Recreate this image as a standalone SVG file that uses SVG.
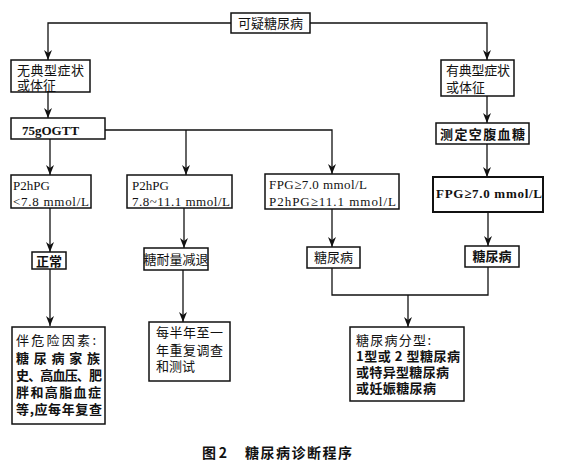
<svg xmlns="http://www.w3.org/2000/svg" width="561" height="472" viewBox="0 0 561 472">
<defs>
<marker id="arr" markerUnits="userSpaceOnUse" markerWidth="11" markerHeight="9" refX="10" refY="4" orient="auto">
<path d="M0,0 L10,4 L0,8 L3,4 z" fill="#111"/>
</marker>
<style>
.b{fill:#fff;stroke:#111;stroke-width:1.5}
.c{fill:none;stroke:#111;stroke-width:1.3}
.cn{font-family:"Noto Sans CJK SC","Liberation Sans",sans-serif;font-size:13px;fill:#111}
.lt{font-family:"Liberation Serif","Noto Sans CJK SC",serif;font-size:13px;fill:#111}
.bd{font-weight:bold}
</style>
</defs>
<rect width="561" height="472" fill="#fff"/>
<g id="connectors">
<path class="c" d="M231,23 H48 V60" marker-end="url(#arr)"/>
<path class="c" d="M310,23 H487 V60" marker-end="url(#arr)"/>
<path class="c" d="M48,92 V118" marker-end="url(#arr)"/>
<path class="c" d="M487,96 V123" marker-end="url(#arr)"/>
<path class="c" d="M105,130 H332 V174" marker-end="url(#arr)"/>
<path class="c" d="M186,130 V175" marker-end="url(#arr)"/>
<path class="c" d="M50,139 V175" marker-end="url(#arr)"/>
<path class="c" d="M487,144 V177" marker-end="url(#arr)"/>
<path class="c" d="M50,208 V252" marker-end="url(#arr)"/>
<path class="c" d="M184,208 V248" marker-end="url(#arr)"/>
<path class="c" d="M332,209 V247" marker-end="url(#arr)"/>
<path class="c" d="M488,212 V246" marker-end="url(#arr)"/>
<path class="c" d="M50,269 V326" marker-end="url(#arr)"/>
<path class="c" d="M183,270 V322" marker-end="url(#arr)"/>
<path class="c" d="M332,268 V295 H488 V267"/>
<path class="c" d="M408,295 V327" marker-end="url(#arr)"/>
</g>
<g id="n-top">
<rect class="b" x="231" y="13" width="79" height="20"/>
<text class="cn" x="270.5" y="27.5" text-anchor="middle">可疑糖尿病</text>
</g>
<g id="n-atypical">
<rect class="b" x="11" y="60" width="79" height="32"/>
<text class="cn"><tspan x="17" y="74.5" textLength="67">无典型症状</tspan><tspan x="17" y="89.5">或体征</tspan></text>
</g>
<g id="n-typical">
<rect class="b" x="441" y="60" width="73" height="36"/>
<text class="cn"><tspan x="446" y="75" textLength="64">有典型症状</tspan><tspan x="446" y="92">或体征</tspan></text>
</g>
<g id="n-ogtt">
<rect class="b" x="11" y="118" width="94" height="21"/>
<text class="lt bd" x="22" y="134.5">75gOGTT</text>
</g>
<g id="n-fasting">
<rect class="b" x="436" y="123" width="93" height="21"/>
<text class="cn bd" x="440" y="138.5" textLength="85">测定空腹血糖</text>
</g>
<g id="n-p1">
<rect class="b" x="11" y="175" width="80" height="33"/>
<text class="lt"><tspan x="13" y="189.5">P2hPG</tspan><tspan x="13" y="205.5" textLength="76">&lt;7.8 mmol/L</tspan></text>
</g>
<g id="n-p2">
<rect class="b" x="127" y="175" width="105" height="33"/>
<text class="lt"><tspan x="132" y="189.5">P2hPG</tspan><tspan x="132" y="205.5" textLength="98">7.8~11.1 mmol/L</tspan></text>
</g>
<g id="n-p3">
<rect class="b" x="265" y="174" width="134" height="35"/>
<text class="lt"><tspan x="269" y="188.5" textLength="98">FPG≥7.0 mmol/L</tspan><tspan x="269" y="206" textLength="127">P2hPG≥11.1 mmol/L</tspan></text>
</g>
<g id="n-p4">
<rect class="b" x="433" y="177" width="110" height="35" style="stroke-width:2"/>
<text class="lt bd" x="436" y="197.5" textLength="106">FPG≥7.0 mmol/L</text>
</g>
<g id="n-normal">
<rect class="b" x="32" y="252" width="34" height="17"/>
<text class="cn bd" x="49" y="265.5" text-anchor="middle">正常</text>
</g>
<g id="n-igt">
<rect class="b" x="144" y="248" width="64" height="22"/>
<text class="cn" x="176" y="263.5" text-anchor="middle">糖耐量减退</text>
</g>
<g id="n-dm1">
<rect class="b" x="307" y="247" width="53" height="21"/>
<text class="cn" x="333.5" y="262" text-anchor="middle">糖尿病</text>
</g>
<g id="n-dm2">
<rect class="b" x="465" y="246" width="54" height="21"/>
<text class="cn bd" x="492" y="261" text-anchor="middle">糖尿病</text>
</g>
<g id="n-risk">
<rect class="b" x="12" y="327" width="93" height="97"/>
<text class="cn"><tspan x="16" y="345" textLength="80">伴危险因素:</tspan><tspan x="16" y="363" textLength="84" font-weight="bold">糖尿病家族</tspan><tspan x="16" y="380" textLength="86" font-weight="bold">史、高血压、肥</tspan><tspan x="16" y="397" textLength="85" font-weight="bold">胖和高脂血症</tspan><tspan x="16" y="414" textLength="86" font-weight="bold">等,应每年复查</tspan></text>
</g>
<g id="n-recheck">
<rect class="b" x="149" y="322" width="81" height="59"/>
<text class="cn"><tspan x="156" y="337" textLength="67">每半年至一</tspan><tspan x="156" y="355" textLength="67">年重复调查</tspan><tspan x="156" y="371">和测试</tspan></text>
</g>
<g id="n-types">
<rect class="b" x="350" y="327" width="114" height="74"/>
<text class="cn"><tspan x="356" y="345" textLength="75">糖尿病分型:</tspan><tspan x="356" y="361" textLength="104" font-weight="bold">1型或 2 型糖尿病</tspan><tspan x="356" y="377" textLength="93" font-weight="bold">或特异型糖尿病</tspan><tspan x="356" y="393" textLength="80" font-weight="bold">或妊娠糖尿病</tspan></text>
</g>
<text class="cn bd" x="202" y="458" style="font-size:14px" textLength="25">图2</text>
<text class="cn bd" x="245" y="458" style="font-size:14px" textLength="107">糖尿病诊断程序</text>
</svg>
